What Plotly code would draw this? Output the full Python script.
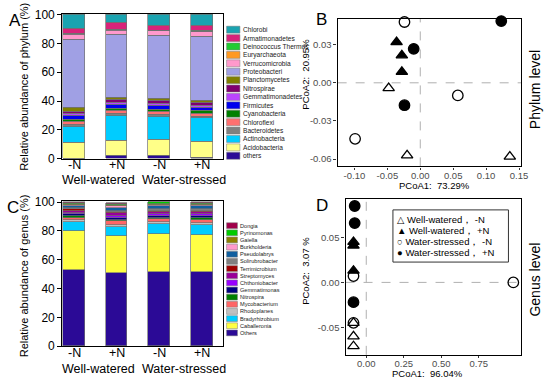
import plotly.graph_objects as go

W, H = 550, 386

# ---------------- data ----------------
bar_pos = [0, 1, 2, 3]
treat_labels = ["-N", "+N", "-N", "+N"]
group_labels = ["Well-watered", "Water-stressed"]

phyla = ["others", "Acidobacteria", "Actinobacteria", "Bacteroidetes", "Chloroflexi",
         "Cyanobacteria", "Firmicutes", "Gemmatimonadetes", "Nitrospirae", "Planctomycetes",
         "Proteobacteri", "Verrucomicrobia", "Euryarchaeota", "Deinococcus Thermus",
         "Armatimonadetes", "Chlorobi"]
others_p = [0.3, 2.0, 2.3, 1.0]
acido = [11.0, 10.5, 11.0, 10.5]
actino = [11.0, 17.3, 15.8, 16.7]
bactero = [1.4, 1.2, 1.4, 1.0]
chloroflexi = [2.0, 2.5, 2.0, 2.3]
cyano = [1.3, 1.5, 1.5, 1.5]
firmi = [2.8, 2.5, 2.5, 2.5]
gemmat = [1.3, 1.5, 1.5, 1.5]
nitrospirae = [1.8, 2.0, 2.0, 1.5]
plancto = [2.3, 1.5, 1.5, 2.0]
proteo = [47.5, 43.8, 43.9, 44.2]
verruco = [3.6, 2.7, 3.1, 3.3]
eury = [0.3, 0.3, 0.3, 0.4]
deino = [0.3, 0.3, 0.3, 0.4]
armati = [3.5, 4.6, 3.4, 3.2]
chlorobi = [9.6, 5.8, 7.5, 8.0]
phylum_vals = [others_p, acido, actino, bactero, chloroflexi, cyano, firmi, gemmat,
               nitrospirae, plancto, proteo, verruco, eury, deino, armati, chlorobi]
phylum_colors = ["#2b0a96", "#ffff88", "#00ccff", "#808080", "#ff7070", "#008000",
                 "#0000ee", "#bb44ff", "#800070", "#808000", "#a0a0e4", "#ff99cc",
                 "#ff9922", "#22cc33", "#d8237a", "#1aa3b0"]

genera = ["Others", "Caballeronia", "Bradyrhizobium", "Rhodoplanes", "Mycobacterium",
          "Nitrospira", "Gemmatimonas", "Chthoniobacter", "Streptomyces", "Terrimicrobium",
          "Solirubrobacter", "Pseudolabrys", "Burkholderia", "Gaiella", "Pyrinomonas", "Dongia"]
others_g = [52.5, 50.5, 51.5, 51.0]
caballeronia = [27.0, 26.0, 26.3, 26.0]
bradyrhizobium = [6.5, 6.0, 6.5, 7.0]
rhodoplanes = [1.5, 1.5, 1.5, 1.5]
mycobacterium = [1.5, 2.5, 2.0, 2.0]
nitrospira = [1.0, 1.0, 1.0, 1.0]
gemmatimonas = [1.5, 1.5, 1.5, 1.5]
chthoniobacter = [1.0, 1.5, 1.2, 1.5]
streptomyces = [1.2, 1.5, 1.5, 1.5]
terrimicrobium = [1.2, 1.0, 1.0, 1.0]
solirubrobacter = [1.0, 1.0, 1.0, 1.0]
pseudolabrys = [1.0, 2.0, 2.0, 2.0]
burkholderia = [1.0, 1.0, 1.0, 1.0]
gaiella = [0.8, 0.7, 0.8, 0.7]
pyrinomonas = [0.8, 0.7, 0.8, 0.7]
dongia = [0.5, 0.6, 0.4, 0.6]
genus_vals = [others_g, caballeronia, bradyrhizobium, rhodoplanes, mycobacterium, nitrospira,
              gemmatimonas, chthoniobacter, streptomyces, terrimicrobium, solirubrobacter,
              pseudolabrys, burkholderia, gaiella, pyrinomonas, dongia]
genus_colors = ["#2b0a96", "#ffff44", "#00ccff", "#c0c0c0", "#ff6666", "#008000",
                "#000080", "#9900ff", "#990099", "#a00000", "#808080", "#1060a0",
                "#ff99cc", "#8b8000", "#00cc00", "#a0004a"]

pcoa_groups = ["Well-watered\uff0c -N", "Well-watered\uff0c +N",
               "Water-stressed\uff0c -N", "Water-stressed\uff0c +N"]
# Phylum level PCoA
b_x = [[-0.048, -0.020, 0.136], [-0.036, -0.028, -0.028],
       [-0.024, 0.057, -0.099], [0.123, -0.010, -0.024]]
b_y = [[-0.0041, -0.057, -0.058], [0.032, 0.0216, 0.0086],
       [0.0478, -0.0099, -0.044], [0.0485, 0.0267, -0.0176]]
# Genus level PCoA
d_x = [[-0.085, -0.085, -0.085], [-0.085, -0.085, -0.085],
       [-0.085, -0.085, 0.98], [-0.077, -0.077, -0.085]]
d_y = [[-0.045, -0.060, -0.071], [0.045, 0.041, 0.013],
       [0.007, -0.045, 0.0], [0.085, 0.066, -0.022]]

b_xticks = [-0.10, -0.05, 0.0, 0.05, 0.10, 0.15]
b_xtext = ["-0.10", "-0.05", "0.00", "0.05", "0.10", "0.15"]
b_yticks = [-0.06, -0.03, 0.0, 0.03]
b_ytext = ["-0.06", "-0.03", "0.00", "0.03"]
d_xticks = [0.0, 0.25, 0.50, 0.75]
d_xtext = ["0.00", "0.25", "0.50", "0.75"]
d_yticks = [-0.05, 0.0, 0.05]
d_ytext = ["-0.05", "0.00", "0.05"]

# ---------------- figure ----------------
FONT = "Liberation Sans, Arial, DejaVu Sans, sans-serif"
fig = go.Figure()


def px(x):
    return x / W


def py(y):
    return 1 - y / H


for name, vals, col in zip(phyla, phylum_vals, phylum_colors):
    fig.add_trace(go.Bar(x=bar_pos, y=vals, name=name, marker_color=col,
                         marker_line=dict(color="#707070", width=0.7), width=0.51,
                         xaxis="x", yaxis="y", showlegend=False))
for name, vals, col in zip(genera, genus_vals, genus_colors):
    fig.add_trace(go.Bar(x=bar_pos, y=vals, name=name, marker_color=col,
                         marker_line=dict(color="#707070", width=0.7), width=0.51,
                         xaxis="x3", yaxis="y3", showlegend=False))

symbols = [dict(symbol="triangle-up-open", size=10),
           dict(symbol="triangle-up", size=10),
           dict(symbol="circle-open", size=10.5),
           dict(symbol="circle", size=10.5)]
for g, sx, sy, sm in zip(pcoa_groups, b_x, b_y, symbols):
    fig.add_trace(go.Scatter(x=sx, y=sy, mode="markers", name=g, xaxis="x2", yaxis="y2",
                             cliponaxis=False,
                             marker=dict(color="black", line=dict(width=1.3, color="black"), **sm),
                             showlegend=False))
for g, sx, sy, sm in zip(pcoa_groups, d_x, d_y, symbols):
    fig.add_trace(go.Scatter(x=sx, y=sy, mode="markers", name=g, xaxis="x4", yaxis="y4",
                             cliponaxis=False,
                             marker=dict(color="black", line=dict(width=1.3, color="black"), **sm),
                             showlegend=False))

bar_axis = dict(showline=True, mirror=True, linecolor="black", linewidth=1, showgrid=False,
                zeroline=False, ticks="outside", ticklen=4, tickcolor="black",
                tickfont=dict(size=12, color="black", family=FONT))
pc_axis = dict(showline=True, mirror=True, linecolor="black", linewidth=1.4, showgrid=False,
               zeroline=False, ticks="outside", ticklen=3, tickcolor="#333",
               tickfont=dict(size=9.5, color="#4d4d4d", family=FONT))

fig.update_layout(
    width=W, height=H, autosize=False, margin=dict(l=0, r=0, t=0, b=0),
    paper_bgcolor="white", plot_bgcolor="white", barmode="stack", bargap=0,
    font=dict(family=FONT, color="black"),
    xaxis=dict(bar_axis, domain=[px(63), px(226)], range=[-0.278, 3.498],
               tickvals=bar_pos, showticklabels=False, ticks="", anchor="y"),
    yaxis=dict(bar_axis, domain=[py(158), py(8)], range=[0, 100.6],
               tickvals=[0, 20, 40, 60, 80, 100], anchor="x"),
    xaxis3=dict(bar_axis, domain=[px(63), px(226)], range=[-0.278, 3.498],
                tickvals=bar_pos, showticklabels=False, ticks="", anchor="y3"),
    yaxis3=dict(bar_axis, domain=[py(352), py(202)], range=[0, 100.6],
                tickvals=[0, 20, 40, 60, 80, 100], anchor="x3"),
    xaxis2=dict(pc_axis, domain=[px(342), px(528)], range=[-0.1255, 0.1534],
                tickvals=b_xticks, ticktext=b_xtext, anchor="y2", ticklen=2,
                ticklabelstandoff=-2),
    yaxis2=dict(pc_axis, domain=[py(166), py(13)], range=[-0.0657, 0.0505],
                tickvals=b_yticks, ticktext=b_ytext, anchor="x2"),
    xaxis4=dict(pc_axis, domain=[px(350), px(528)], range=[-0.138, 1.033],
                tickvals=d_xticks, ticktext=d_xtext, anchor="y4", ticklen=2,
                ticklabelstandoff=-2),
    yaxis4=dict(pc_axis, domain=[py(361), py(200)], range=[-0.0806, 0.0925],
                tickvals=d_yticks, ticktext=d_ytext, anchor="x4"),
)

shapes = []
ann = []


def text(x, y, s, size, angle=0, xanchor="center", color="black", **kw):
    ann.append(dict(x=px(x), y=py(y), xref="paper", yref="paper", text=s, showarrow=False,
                    textangle=angle, xanchor=xanchor, yanchor="middle", borderpad=0,
                    font=dict(size=size, color=color, family=FONT), **kw))


# dashed zero lines
for xa, ya in [("x2", "y2"), ("x4", "y4")]:
    shapes.append(dict(type="line", xref=xa, yref=ya + " domain", x0=0, x1=0, y0=0, y1=1,
                       line=dict(color="#b0b0b0", width=1, dash="dash"), layer="below"))
    shapes.append(dict(type="line", xref=xa + " domain", yref=ya, x0=0, x1=1, y0=0, y1=0,
                       line=dict(color="#b0b0b0", width=1, dash="dash"), layer="below"))

# legend A
for k, (name, col) in enumerate(zip(phyla[::-1], phylum_colors[::-1])):
    yc = 24.5 + k * 8.7
    shapes.append(dict(type="rect", xref="paper", yref="paper", x0=px(229.5), x1=px(243),
                       y0=py(yc + 3.6), y1=py(yc - 3.6), fillcolor=col,
                       line=dict(color="#777", width=0.5)))
    text(245.5, yc, name, 6.6, xanchor="left", color="#222")

# legend C
for k, (name, col) in enumerate(zip(genera[::-1], genus_colors[::-1])):
    yc = 227.3 + k * 7.4
    shapes.append(dict(type="rect", xref="paper", yref="paper", x0=px(229.5), x1=px(240.5),
                       y0=py(yc + 3.0), y1=py(yc - 3.0), fillcolor=col,
                       line=dict(color="#777", width=0.5)))
    text(242.5, yc, name, 5.6, xanchor="left", color="#222")

# legend D
shapes.append(dict(type="rect", xref="paper", yref="paper", x0=px(398), x1=px(515),
                   y0=py(265), y1=py(211), line=dict(color="#333", width=1), fillcolor="white"))
glyphs = ["\u25b3", "\u25b2", "\u25cb", "\u25cf"]
for k, (gl, g) in enumerate(zip(glyphs, pcoa_groups)):
    yc = 220.8 + k * 11.6
    text(401, yc, gl + " " + g, 9.5, xanchor="left")

# treatment labels under each bar (A and C)
for xb, t in zip(bar_pos, treat_labels):
    for xa, ypix in [("x", 164.5), ("x3", 359.5)]:
        ann.append(dict(x=xb, xref=xa, y=py(ypix), yref="paper", borderpad=0,
                        text=t, showarrow=False, xanchor="center", yanchor="middle",
                        font=dict(size=12.5, color="black", family=FONT)))

# group labels under bars
for xpos, g in zip([100, 186.5], group_labels):
    text(xpos, 180, g, 12.5)
    text(xpos, 375.5, g, 12.5)

# axis titles
text(24, 84, "Relative abundance of phylum (%)", 11, angle=-90)
text(24, 279, "Relative abundance of genus (%)", 11, angle=-90)
text(310, 71, "PCoA2:  20.95%", 9.5, angle=-90)
text(440, 186, "PCoA1:  73.29%", 9.5)
text(310, 274, "PCoA2:  3.07 %", 9.5, angle=-90)
text(433, 380, "PCoA1:  96.04%", 9.5)
text(542, 87, "Phylum level", 14, angle=-90)
text(542, 283, "Genus level", 14, angle=-90)

# panel letters
text(15, 15, "A", 17)
text(326, 14, "B", 17)
text(13, 209, "C", 17)
text(326, 206, "D", 17)

fig.update_layout(shapes=shapes, annotations=ann)
fig.write_html("out.html", config={"displayModeBar": False},
               post_script="document.body.style.margin='0';document.body.style.padding='0';")
